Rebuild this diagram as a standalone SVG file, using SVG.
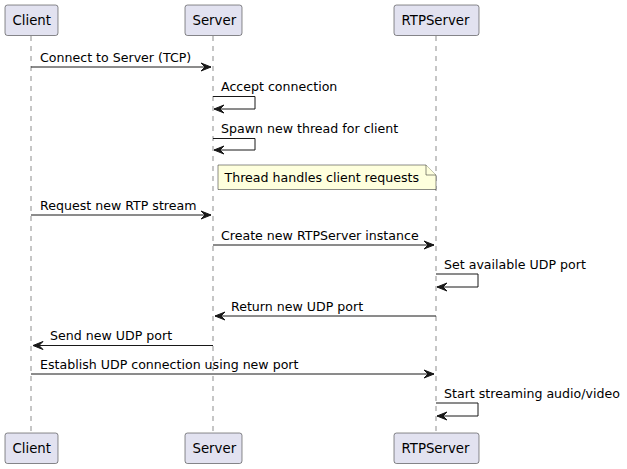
<svg xmlns="http://www.w3.org/2000/svg" width="627" height="469" viewBox="0 0 627 469">
<style>
.box{fill:#E2E2F0;stroke:#181818;stroke-width:0.5}
.life{stroke:#181818;stroke-width:0.5;stroke-dasharray:5,5}
.msg{stroke:#181818;stroke-width:1;fill:none}
.head{fill:#181818;stroke:#181818;stroke-width:1}
.pt{font-family:"DejaVu Sans",sans-serif;font-size:13.3px;fill:#000}
.mt{font-family:"DejaVu Sans",sans-serif;font-size:12.6px;fill:#000}
.note{fill:#FEFFDD;stroke:#181818;stroke-width:0.5}
</style>
<rect width="627" height="469" fill="#FFFFFF"/>
<g id="lifelines">
<line class="life" x1="31" y1="36" x2="31" y2="433"/>
<line class="life" x1="213" y1="36" x2="213" y2="433"/>
<line class="life" x1="436" y1="36" x2="436" y2="433"/>
</g>
<g id="client">
<rect class="box" x="5" y="5" width="53" height="30.5" rx="2.5"/>
<text class="pt" x="12.5" y="25">Client</text>
<rect class="box" x="5" y="433" width="53" height="30.5" rx="2.5"/>
<text class="pt" x="12.5" y="453">Client</text>
</g>
<g id="server">
<rect class="box" x="185" y="5" width="57" height="30.5" rx="2.5"/>
<text class="pt" x="192.5" y="25">Server</text>
<rect class="box" x="185" y="433" width="57" height="30.5" rx="2.5"/>
<text class="pt" x="192.5" y="453">Server</text>
</g>
<g id="rtpserver">
<rect class="box" x="394" y="5" width="85" height="30.5" rx="2.5"/>
<text class="pt" x="401.5" y="25">RTPServer</text>
<rect class="box" x="394" y="433" width="85" height="30.5" rx="2.5"/>
<text class="pt" x="401.5" y="453">RTPServer</text>
</g>
<g id="note">
<path class="note" d="M218,165 L426,165 L436,175 L436,189.5 L218,189.5 Z"/>
<path class="note" d="M426,165 L426,175 L436,175" fill="none"/>
<text class="mt" x="224.5" y="182">Thread handles client requests</text>
</g>
<g id="connectors">
<line class="msg" x1="31" y1="67" x2="211" y2="67"/>
<polygon class="head" points="201,63 211,67 201,71 205,67"/>
<text class="mt" x="40" y="62">Connect to Server (TCP)</text>

<polyline class="msg" points="213,96.5 255,96.5 255,109 214,109"/>
<polygon class="head" points="224,105 214,109 224,113 220,109"/>
<text class="mt" x="221" y="90.5">Accept connection</text>

<polyline class="msg" points="213,138.5 255,138.5 255,150 214,150"/>
<polygon class="head" points="224,146 214,150 224,154 220,150"/>
<text class="mt" x="221" y="133">Spawn new thread for client</text>

<line class="msg" x1="31" y1="215" x2="211" y2="215"/>
<polygon class="head" points="201,211 211,215 201,219 205,215"/>
<text class="mt" x="40" y="210">Request new RTP stream</text>

<line class="msg" x1="213" y1="245" x2="434" y2="245"/>
<polygon class="head" points="424,241 434,245 424,249 428,245"/>
<text class="mt" x="221" y="240">Create new RTPServer instance</text>

<polyline class="msg" points="436,274 478,274 478,287 437,287"/>
<polygon class="head" points="447,283 437,287 447,291 443,287"/>
<text class="mt" x="444" y="268.5">Set available UDP port</text>

<line class="msg" x1="215" y1="316" x2="436" y2="316"/>
<polygon class="head" points="225,312 215,316 225,320 221,316"/>
<text class="mt" x="231" y="311">Return new UDP port</text>

<line class="msg" x1="33" y1="345.5" x2="213" y2="345.5"/>
<polygon class="head" points="43,341.5 33,345.5 43,349.5 39,345.5"/>
<text class="mt" x="50" y="340">Send new UDP port</text>

<line class="msg" x1="31" y1="374" x2="434" y2="374"/>
<polygon class="head" points="424,370 434,374 424,378 428,374"/>
<text class="mt" x="40" y="368.5">Establish UDP connection using new port</text>

<polyline class="msg" points="436,403 478,403 478,416 437,416"/>
<polygon class="head" points="447,412 437,416 447,420 443,416"/>
<text class="mt" x="444" y="397.5">Start streaming audio/video</text>
</g>
</svg>
